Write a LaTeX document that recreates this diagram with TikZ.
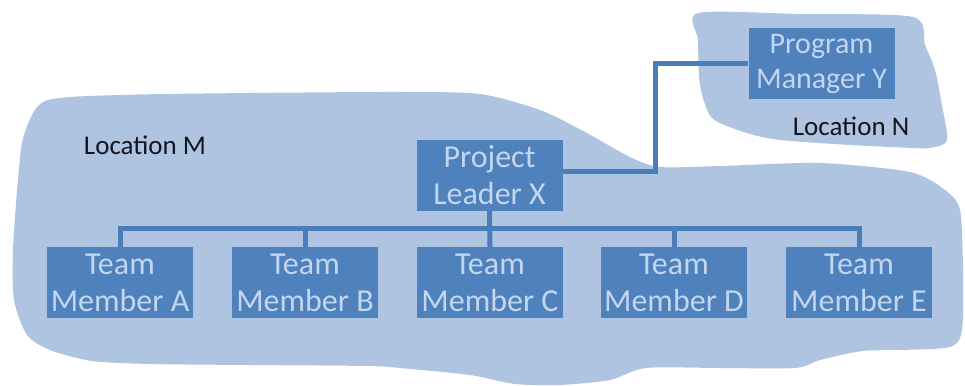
\documentclass[tikz,border=0pt]{standalone}
\usepackage{fontspec}
\setmainfont{Carlito}
\usetikzlibrary{calc}
\definecolor{blob}{HTML}{AEC4E0}
\definecolor{boxblue}{HTML}{4F81BD}
\definecolor{boxtext}{HTML}{C3D6EF}
\definecolor{linecol}{HTML}{4A7DBA}
\definecolor{loctext}{HTML}{151520}
\begin{document}
\begin{tikzpicture}[x=1pt,y=-1pt]
\tikzset{
  member/.style={fill=boxblue, minimum width=146pt, minimum height=71pt, inner sep=0pt,
    text=boxtext, align=center, font=\fontsize{32}{37}\selectfont},
  conn/.style={draw=linecol, line width=5pt},
  loc/.style={font=\fontsize{27}{32}\selectfont, text=loctext, inner sep=0pt}
}
\useasboundingbox (0,0) rectangle (965,385);
% location blobs
\fill[blob] plot[smooth cycle, tension=0.45] coordinates {
  (45,101) (120,95) (250,93) (400,92) (480,94) (540,110) (585,132) (630,157)
  (660,167) (720,166) (820,163) (910,172) (945,190) (960,210) (963,270)
  (962,330) (950,347) (900,350) (862,351) (820,360) (795,368) (720,368)
  (646,368) (610,380) (560,385) (515,384) (470,375) (400,368) (369,366)
  (250,365) (150,364) (92,361) (50,350) (27,335) (14,300) (13,250) (18,180) (24,135)};
\fill[blob] plot[smooth cycle, tension=0.45] coordinates {
  (698,13) (800,14) (913,17) (925,45) (935,70) (941,100) (947,140) (930,148)
  (913,148) (850,145) (780,140) (747,133) (712,118) (700,85) (698,40)};
% labels
\node[loc] (lm) at (145,145) {Location M};
\node[loc] (ln) at (851,126) {Location N};
% boxes
\node[member] (A) at (120,282.5) {Team\\Member A};
\node[member] (B) at (305,282.5) {Team\\Member B};
\node[member] (C) at (490,282.5) {Team\\Member C};
\node[member] (D) at (674,282.5) {Team\\Member D};
\node[member] (E) at (859,282.5) {Team\\Member E};
\node[member] (L) at (489.5,175) {Project\\Leader X};
\node[member, font=\fontsize{30}{35}\selectfont] (P) at (821.5,64) {Program\\Manager Y};
% connectors
\draw[conn] (A.north) -- ++(0,-18) -| (E.north);
\draw[conn] (B.north) -- ++(0,-18);
\draw[conn] (D.north) -- ++(0,-18);
\draw[conn] (L.south) -- (C.north);
\coordinate (k) at (655,171);
\draw[conn] ([yshift=4pt]L.east) -- (k) |- (P.west);
\end{tikzpicture}
\end{document}
